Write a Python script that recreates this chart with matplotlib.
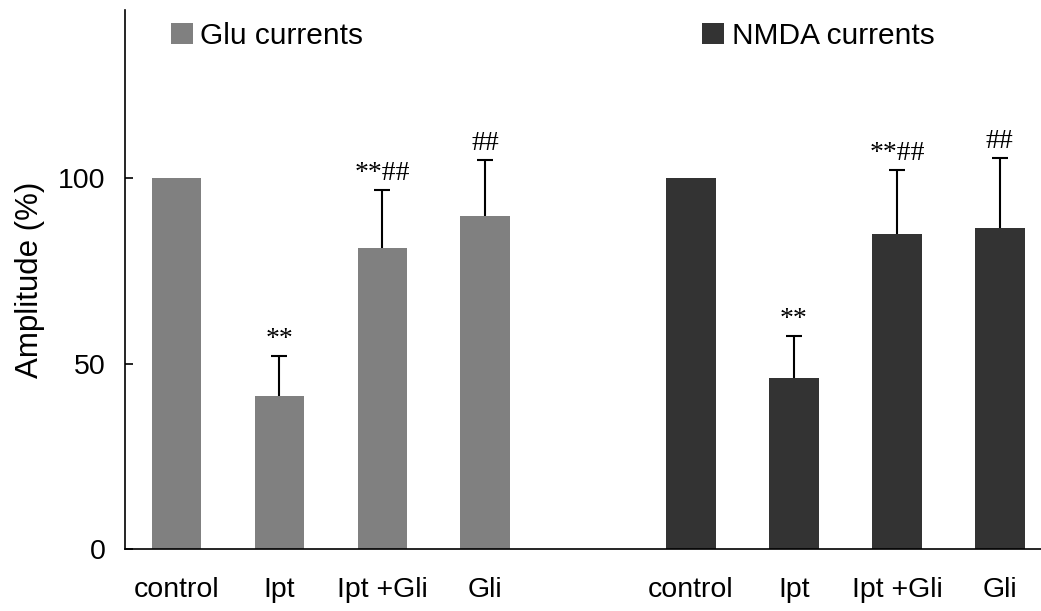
import numpy as np
import matplotlib
matplotlib.use("Agg")
import matplotlib.pyplot as plt

plt.rcParams['font.family'] = ['Liberation Sans', 'DejaVu Sans']

# 各组处理条件及幅值（相对对照，%）
conditions = ["control", "Ipt", "Ipt +Gli", "Gli"]
glu_mean = [100, 41.2, 81.1, 89.8]
glu_err = [0, 10.8, 15.7, 15.1]
nmda_mean = [100, 46.1, 84.9, 86.5]
nmda_err = [0, 11.3, 17.3, 18.9]
glu_marks = ["", "**", "**##", "##"]
nmda_marks = ["", "**", "**##", "##"]

x_glu = np.arange(len(conditions))
x_nmda = x_glu + len(conditions) + 1

fig = plt.figure(figsize=(10.41, 6.11), dpi=100)
ax = fig.add_axes([0.120, 0.1015, 0.880, 0.882])

b1 = ax.bar(x_glu, glu_mean, width=0.48, color='#808080', label='Glu currents')
b2 = ax.bar(x_nmda, nmda_mean, width=0.48, color='#333333', label='NMDA currents')

# 只画向上的误差线，对照组不画
for xs, m, e, marks in [(x_glu, glu_mean, glu_err, glu_marks),
                        (x_nmda, nmda_mean, nmda_err, nmda_marks)]:
    for xi, mi, ei, mk in zip(xs, m, e, marks):
        if ei > 0:
            _, caps, _ = ax.errorbar(xi, mi, yerr=[[0], [ei]], fmt='none',
                                     ecolor='black', elinewidth=1.5,
                                     capsize=6, capthick=1.5)
            caps[0].set_visible(False)  # 去掉柱顶的下端帽
        if mk:
            ax.annotate(mk, (xi, mi + ei), xytext=(0, 3), textcoords='offset points',
                        ha='center', va='bottom', fontsize=20,
                        family='Liberation Serif')

ax.set_xlim(-0.5, 8.4)
ax.set_ylim(0, 145.3)
ax.set_yticks([0, 50, 100])
ax.set_xticks(list(x_glu) + list(x_nmda))
ax.set_xticklabels(conditions + conditions)
ax.tick_params(axis='y', direction='in', length=6, width=1.2, labelsize=20.5, pad=14)
ax.tick_params(axis='x', length=0, labelsize=20.5, pad=20)
ax.set_ylabel("Amplitude (%)", fontsize=22.5, labelpad=9)

for s in ['top', 'right']:
    ax.spines[s].set_visible(False)
for s in ['left', 'bottom']:
    ax.spines[s].set_linewidth(1.2)

leg_kw = dict(loc='upper left', frameon=False, fontsize=21.5, handlelength=0.74,
              handleheight=0.74, handletextpad=0.25, borderaxespad=0)
leg1 = ax.legend(handles=[b1], bbox_to_anchor=(0.037, 1.0), **leg_kw)
ax.add_artist(leg1)
ax.legend(handles=[b2], bbox_to_anchor=(0.617, 1.0), **leg_kw)

fig.savefig("out.png", dpi=100)
